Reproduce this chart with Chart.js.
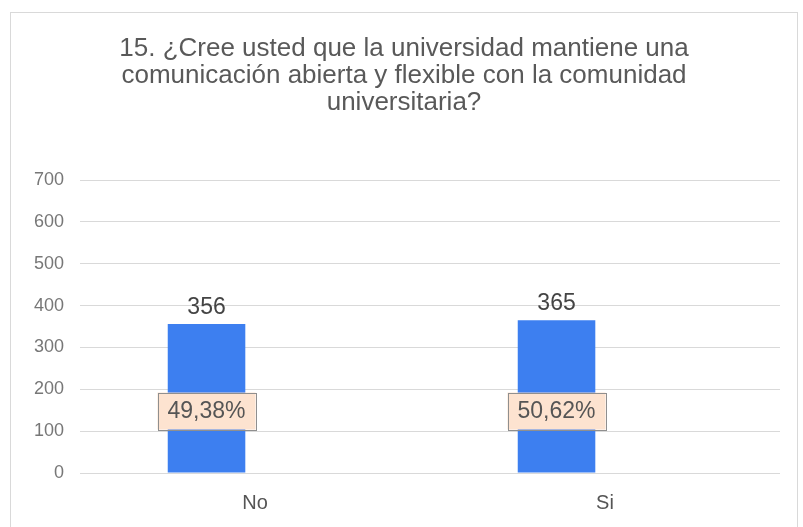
<!DOCTYPE html>
<html><head><meta charset="utf-8">
<script src="https://cdn.jsdelivr.net/npm/chart.js@4"></script>
<style>html,body{margin:0;padding:0;background:#fff;}#c{display:block;}</style>
</head><body>
<canvas id="c" width="803" height="527"></canvas>
<script>
const titleLines = ["15. ¿Cree usted que la universidad mantiene una","comunicación abierta y flexible con la comunidad","universitaria?"];
const categories = ["No","Si"];
const counts = [356,365];
const percentLabels = ["49,38%","50,62%"];
const yTicks = [0,100,200,300,400,500,600,700];
const percentBoxValue = 148;

const FONT = "'Liberation Sans', Arial, sans-serif";

const decor = {
  id:'decor',
  beforeDraw(chart){
    const ctx = chart.ctx;
    ctx.save();
    ctx.fillStyle='#fff';ctx.fillRect(0,0,chart.width,chart.height);
    ctx.strokeStyle='#d9d9d9';ctx.lineWidth=1;
    ctx.strokeRect(10.5,12.5,787,520);
    ctx.fillStyle='#595959';
    ctx.font="26px "+FONT;
    ctx.textAlign='center';ctx.textBaseline='middle';
    titleLines.forEach((t,i)=>ctx.fillText(t,404,49+i*27));
    ctx.restore();
  },
  afterDatasetsDraw(chart){
    const ctx = chart.ctx;
    const meta = chart.getDatasetMeta(0);
    const ys = chart.scales.y;
    ctx.save();
    ctx.textAlign='center';
    meta.data.forEach((bar,i)=>{
      ctx.font="23px "+FONT;
      ctx.fillStyle='#444';
      ctx.textBaseline='bottom';
      ctx.fillText(String(counts[i]),bar.x,bar.y-5);
      const cy = ys.getPixelForValue(percentBoxValue);
      const w=98,h=37;
      ctx.fillStyle='#fde3d0';
      ctx.fillRect(bar.x-w/2,cy-h/2,w,h);
      ctx.strokeStyle='#8f8f8f';ctx.lineWidth=1;
      ctx.strokeRect(Math.round(bar.x-w/2)+0.5,Math.round(cy-h/2)+0.5,w,h);
      ctx.fillStyle='#555';
      ctx.textBaseline='middle';
      ctx.font="23px "+FONT;
      ctx.fillText(percentLabels[i],bar.x,cy+1);
    });
    ctx.restore();
  }
};

new Chart(document.getElementById('c'),{
  type:'bar',
  data:{labels:categories,datasets:[
    {data:counts,backgroundColor:'#3d7ff0',borderWidth:0,categoryPercentage:0.554,barPercentage:0.8},
    {data:[null,null],backgroundColor:'rgba(0,0,0,0)',categoryPercentage:0.554,barPercentage:0.8}
  ]},
  options:{
    responsive:false,animation:false,
    layout:{padding:{left:10,right:23,top:180,bottom:0}},
    plugins:{legend:{display:false},title:{display:false},tooltip:{enabled:false}},
    scales:{
      x:{grid:{display:false,drawTicks:false},border:{display:false},
         ticks:{color:'#555',font:{family:FONT,size:20},padding:18},
         afterFit(s){s.height=54;}},
      y:{min:0,max:700,afterBuildTicks(s){s.ticks=yTicks.map(v=>({value:v}));},
         grid:{color:'#d9d9d9',drawTicks:false},border:{display:false},
         ticks:{color:'#777',font:{family:FONT,size:18},padding:16},
         afterFit(s){s.width=70;}}
    }
  },
  plugins:[decor]
});
</script>
</body></html>
